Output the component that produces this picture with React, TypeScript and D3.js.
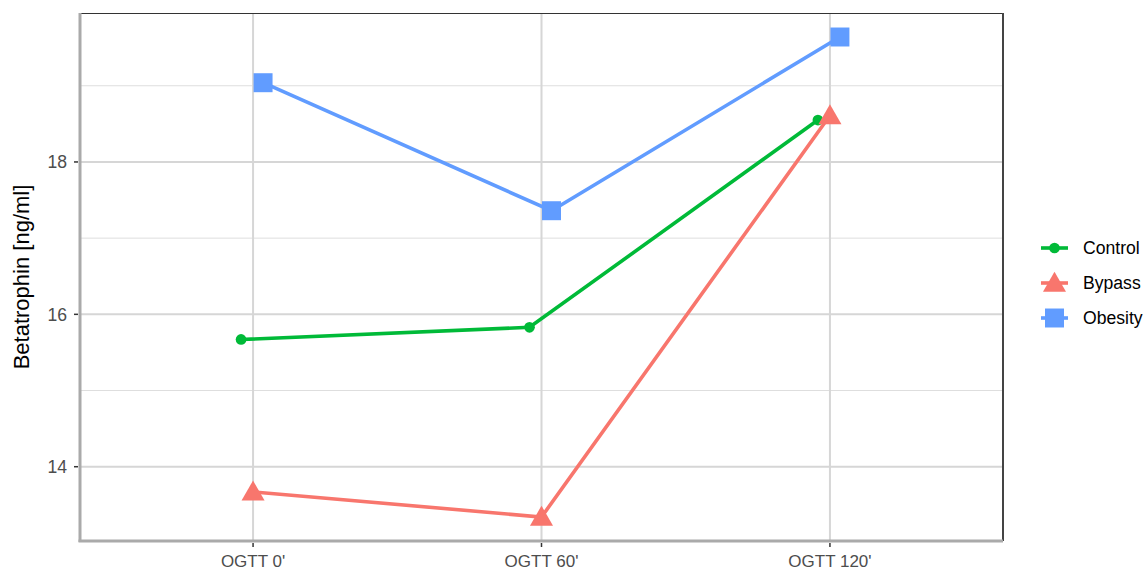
import { useEffect, useRef } from "react";
import * as d3 from "d3";

const categories = ["OGTT 0'", "OGTT 60'", "OGTT 120'"];
const groups = ["Control", "Bypass", "Obesity"];
const controlValues = [15.67, 15.83, 18.55];
const bypassValues = [13.67, 13.34, 18.61];
const obesityValues = [19.04, 17.36, 19.64];
const yTicks = [14, 16, 18];
const yMinor = [15, 17, 19];

const colors: Record<string, string> = {
  Control: "#00BA38",
  Bypass: "#F8766D",
  Obesity: "#619CFF",
};
const dodge: Record<string, number> = { Control: -12, Bypass: 0, Obesity: 10 };

export default function App() {
  const ref = useRef<SVGSVGElement>(null);

  useEffect(() => {
    const svg = d3.select(ref.current);
    svg.selectAll("*").remove();

    const width = 1144;
    const height = 571;
    const panel = { left: 80, right: 1003, top: 13, bottom: 541 };
    const font = "'Liberation Sans', Arial, sans-serif";

    const series = [
      { name: "Control", values: controlValues },
      { name: "Bypass", values: bypassValues },
      { name: "Obesity", values: obesityValues },
    ];

    // discrete x with ggplot-like 0.6 expansion
    const x = d3.scaleLinear()
      .domain([-0.6, categories.length - 1 + 0.6])
      .range([panel.left, panel.right]);

    const all = series.flatMap(s => s.values);
    const lo = d3.min(all) as number;
    const hi = d3.max(all) as number;
    const pad = (hi - lo) * 0.05;
    const y = d3.scaleLinear()
      .domain([lo - pad, hi + pad])
      .range([panel.bottom, panel.top]);

    svg.attr("width", width).attr("height", height).style("font-family", font);

    svg.append("rect")
      .attr("width", width).attr("height", height).attr("fill", "#fff");

    // grid
    const grid = svg.append("g");
    yMinor.forEach(v => {
      grid.append("line")
        .attr("x1", panel.left).attr("x2", panel.right)
        .attr("y1", y(v)).attr("y2", y(v))
        .attr("stroke", "#dedede").attr("stroke-width", 1);
    });
    yTicks.forEach(v => {
      grid.append("line")
        .attr("x1", panel.left).attr("x2", panel.right)
        .attr("y1", y(v)).attr("y2", y(v))
        .attr("stroke", "#d6d6d6").attr("stroke-width", 2);
    });
    categories.forEach((c, i) => {
      grid.append("line")
        .attr("x1", x(i)).attr("x2", x(i))
        .attr("y1", panel.top).attr("y2", panel.bottom)
        .attr("stroke", "#d6d6d6").attr("stroke-width", 2);
    });

    // border
    svg.append("line")
      .attr("x1", panel.left).attr("x2", panel.right)
      .attr("y1", panel.top + 0.5).attr("y2", panel.top + 0.5)
      .attr("stroke", "#333").attr("stroke-width", 1);
    svg.append("line")
      .attr("x1", panel.right).attr("x2", panel.right)
      .attr("y1", panel.top).attr("y2", panel.bottom)
      .attr("stroke", "#444").attr("stroke-width", 2);
    svg.append("line")
      .attr("x1", panel.left).attr("x2", panel.left)
      .attr("y1", panel.top).attr("y2", panel.bottom + 1)
      .attr("stroke", "#aaa").attr("stroke-width", 3);
    svg.append("line")
      .attr("x1", panel.left - 1.5).attr("x2", panel.right)
      .attr("y1", panel.bottom).attr("y2", panel.bottom)
      .attr("stroke", "#aaa").attr("stroke-width", 3);

    // ticks + labels
    yTicks.forEach(v => {
      svg.append("line")
        .attr("x1", panel.left - 6).attr("x2", panel.left - 2)
        .attr("y1", y(v)).attr("y2", y(v))
        .attr("stroke", "#333").attr("stroke-width", 1.5);
      svg.append("text")
        .attr("x", panel.left - 13).attr("y", y(v))
        .attr("dy", "0.36em").attr("text-anchor", "end")
        .attr("fill", "#4d4d4d").style("font-size", "17.6px")
        .text(v);
    });
    categories.forEach((c, i) => {
      svg.append("line")
        .attr("x1", x(i)).attr("x2", x(i))
        .attr("y1", panel.bottom + 2).attr("y2", panel.bottom + 6)
        .attr("stroke", "#333").attr("stroke-width", 1.5);
      svg.append("text")
        .attr("x", x(i)).attr("y", 567)
        .attr("text-anchor", "middle")
        .attr("fill", "#4d4d4d").style("font-size", "17px")
        .text(c);
    });

    svg.append("text")
      .attr("transform", `translate(29, ${(panel.top + panel.bottom) / 2}) rotate(-90)`)
      .attr("text-anchor", "middle")
      .attr("fill", "#000").style("font-size", "22px")
      .text("Betatrophin [ng/ml]");

    const symbolFor = (name: string) => {
      if (name === "Control") return d3.symbol(d3.symbolCircle, 90);
      if (name === "Bypass") return d3.symbol(d3.symbolTriangle, 230);
      return d3.symbol(d3.symbolSquare, 360);
    };

    const line = d3.line<[number, number]>().x(d => d[0]).y(d => d[1]);

    series.forEach(s => {
      const pts: [number, number][] = s.values.map((v, i) => [x(i) + dodge[s.name], y(v)]);
      svg.append("path")
        .attr("d", line(pts))
        .attr("fill", "none")
        .attr("stroke", colors[s.name])
        .attr("stroke-width", 3.6);
      pts.forEach(p => {
        svg.append("path")
          .attr("d", symbolFor(s.name)())
          .attr("transform", `translate(${p[0]}, ${p[1] + (s.name === "Bypass" ? 2 : 0)})`)
          .attr("fill", colors[s.name]);
      });
    });

    // legend
    const legend = svg.append("g");
    groups.forEach((name, i) => {
      const cy = 248 + i * 35;
      legend.append("line")
        .attr("x1", 1041).attr("x2", 1068)
        .attr("y1", cy).attr("y2", cy)
        .attr("stroke", colors[name]).attr("stroke-width", 3.6);
      legend.append("path")
        .attr("d", symbolFor(name)())
        .attr("transform", `translate(1054.5, ${cy + (name === "Bypass" ? 2 : 0)})`)
        .attr("fill", colors[name]);
      legend.append("text")
        .attr("x", 1083).attr("y", cy)
        .attr("dy", "0.36em")
        .attr("fill", "#000").style("font-size", "17.6px")
        .text(name);
    });
  }, []);

  return (
    <div style={{ position: "absolute", left: 0, top: 0, width: 1144, height: 571, overflow: "hidden" }}>
      <svg ref={ref} style={{ display: "block" }} />
    </div>
  );
}
